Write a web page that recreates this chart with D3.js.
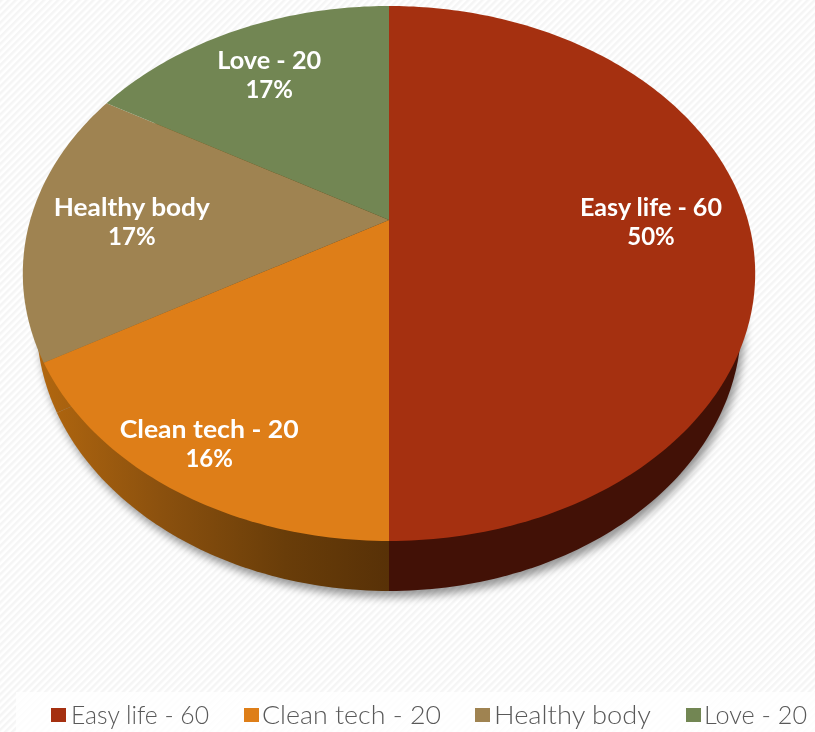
<!DOCTYPE html>
<html><head><meta charset="utf-8">
<style>html,body{margin:0;padding:0;background:#fff}svg{display:block}text{font-family:Lato,"Open Sans",sans-serif}</style>
<script src="https://cdn.jsdelivr.net/npm/d3@7/dist/d3.min.js"></script>
</head><body><div id="chart"></div>
<script>
const categories = ["Easy life - 60", "Clean tech - 20", "Healthy body", "Love - 20"];
const values = [60, 20, 20, 20];
const percentLabels = ["50%", "16%", "17%", "17%"];
const colors = ["#A53010", "#DE7E18", "#9F8351", "#728653"];

const W = 815, H = 732;
const face = {cx: 389, cy: 220, a: 358.8, b: 256.8, k: -0.2};
const wallDrop = 50, wallScale = 0.962;
const labelRadius = [0.733, 0.85, 0.714, 0.748];
const labelW = [142, 179, 156, 104];
const legendSwatchX = [51, 244, 475, 686], legendTextX = [71, 262, 494, 704], legendTextW = [138, 179, 157, 103];

const svg = d3.select("#chart").append("svg").attr("width", W).attr("height", H);
const defs = svg.append("defs");
const pat = defs.append("pattern").attr("id", "stripes").attr("patternUnits", "userSpaceOnUse")
  .attr("width", 5).attr("height", 5).attr("patternTransform", "rotate(-45)");
pat.append("rect").attr("width", 5).attr("height", 5).attr("fill", "#ffffff");
pat.append("rect").attr("width", 5).attr("height", 2.5).attr("fill", "#f5f5f5");
const blur = defs.append("filter").attr("id", "soft").attr("x", "-10%").attr("y", "-10%").attr("width", "120%").attr("height", "120%");
blur.append("feGaussianBlur").attr("stdDeviation", 4);
const grad = defs.append("linearGradient").attr("id", "wallOrange").attr("gradientUnits", "userSpaceOnUse")
  .attr("x1", 44).attr("x2", 389).attr("y1", 0).attr("y2", 0);
[[0, "#B0660F"], [0.35, "#8A500E"], [0.7, "#693D09"], [1, "#583107"]].forEach(d =>
  grad.append("stop").attr("offset", d[0]).attr("stop-color", d[1]));

svg.append("rect").attr("width", W).attr("height", H).attr("fill", "url(#stripes)");
svg.append("rect").attr("x", 16).attr("y", 692).attr("width", W - 16).attr("height", 40).attr("fill", "#fff").attr("opacity", 0.8);

const pie = d3.pie().value(d => d).sort(null);
const slices = pie(values);

// Perspective projection of the unit disc onto the screen
const project = (theta, r, drop = 0, sx = 1) => {
  const u = r * Math.sin(theta), v = -r * Math.cos(theta), w = 1 + face.k * v;
  return [face.cx + sx * face.a * u / w, face.cy + drop + face.b * v / w];
};
const line = d3.line();
const slicePath = (s, drop = 0, sx = 1) => {
  const n = Math.ceil((s.endAngle - s.startAngle) * 60);
  const pts = [project(0, 0, drop, sx)];
  for (let i = 0; i <= n; i++) pts.push(project(s.startAngle + (s.endAngle - s.startAngle) * i / n, 1, drop, sx));
  return line(pts) + "Z";
};

// shadow
svg.append("g").attr("filter", "url(#soft)").attr("transform", "translate(3,6)")
  .selectAll("path").data(slices).join("path")
  .attr("d", d => slicePath(d, wallDrop, wallScale)).attr("fill", "#000").attr("opacity", 0.4);

// side wall: the whole left half reads as one orange gradient
const wallFill = ["#421106", "url(#wallOrange)", "url(#wallOrange)", "url(#wallOrange)"];
svg.append("g").selectAll("path").data(slices).join("path")
  .attr("d", d => slicePath(d, wallDrop, wallScale))
  .attr("fill", (d, i) => wallFill[i]);

// top face
svg.append("g").selectAll("path").data(slices).join("path")
  .attr("d", d => slicePath(d))
  .attr("fill", (d, i) => colors[i]);

// data labels
const lab = svg.append("g").attr("text-anchor", "middle").attr("fill", "#fff")
  .attr("font-size", 24).attr("font-weight", 700);
slices.forEach((s, i) => {
  const p = project((s.startAngle + s.endAngle) / 2, labelRadius[i]);
  lab.append("text").attr("x", p[0] - 1).attr("y", p[1] - 4).attr("textLength", labelW[i])
    .attr("lengthAdjust", "spacingAndGlyphs").text(categories[i]);
  lab.append("text").attr("x", p[0] - 1).attr("y", p[1] + 25).text(percentLabels[i]);
});

// legend
const leg = svg.append("g");
categories.forEach((c, i) => {
  leg.append("rect").attr("x", legendSwatchX[i]).attr("y", 708).attr("width", 15).attr("height", 14).attr("fill", colors[i]);
  leg.append("text").attr("x", legendTextX[i]).attr("y", 724).attr("font-size", 26).attr("font-weight", 300)
    .attr("fill", "#595959").attr("textLength", legendTextW[i]).attr("lengthAdjust", "spacingAndGlyphs").text(c);
});
</script></body></html>
